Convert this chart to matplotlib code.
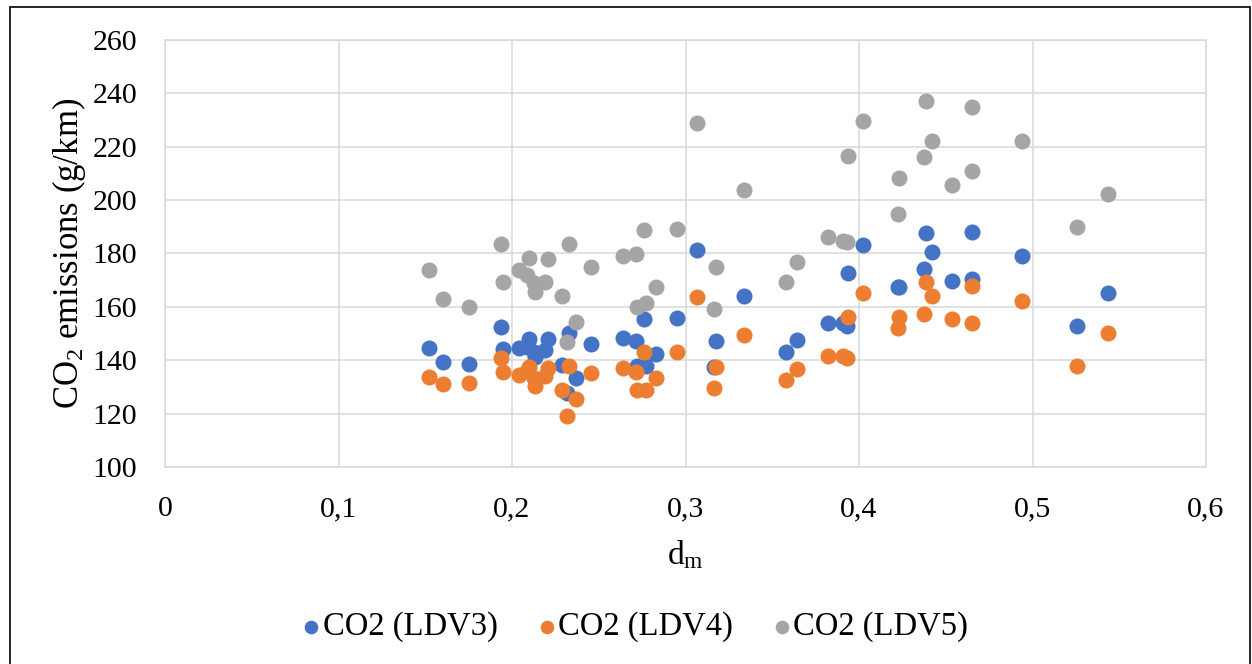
import matplotlib
matplotlib.use("Agg")
import matplotlib.pyplot as plt
from matplotlib.patches import Rectangle
from matplotlib.ticker import FuncFormatter

plt.rcParams['font.family'] = ['Liberation Serif', 'DejaVu Serif']
plt.rcParams['mathtext.fontset'] = 'custom'
plt.rcParams['mathtext.rm'] = 'Liberation Serif'
plt.rcParams['mathtext.it'] = 'Liberation Serif:italic'

# d_m values (shared by all three series)
dm = [0.152, 0.160, 0.175, 0.1935, 0.195, 0.204, 0.2088, 0.2098, 0.2125, 0.2135,
      0.219, 0.2205, 0.2286, 0.2315, 0.233, 0.2367, 0.2453, 0.2638, 0.2715, 0.2722,
      0.2763, 0.2772, 0.283, 0.2949, 0.3064, 0.3164, 0.3176, 0.3337, 0.358, 0.3644,
      0.382, 0.391, 0.3933, 0.3935, 0.4021, 0.4227, 0.4232, 0.4374, 0.4384, 0.4419,
      0.4534, 0.465, 0.4652, 0.4938, 0.5254, 0.5433]

co2_ldv3 = [144.5, 139.2, 138.5, 152.4, 144.3, 144.5, 145.0, 147.8, 143.2, 141.3,
            143.9, 147.8, 138.4, 127.6, 150.1, 133.2, 146.0, 148.2, 147.3, 138.0,
            155.5, 138.0, 142.2, 155.7, 181.4, 137.6, 147.2, 164.2, 143.0, 147.6,
            154.1, 153.8, 153.0, 172.8, 183.2, 167.5, 167.6, 174.1, 187.8, 180.7,
            169.7, 188.0, 170.3, 179.2, 152.8, 165.3]

co2_ldv4 = [133.8, 131.1, 131.6, 140.7, 135.5, 134.5, 136.0, 137.6, 133.2, 130.5,
            134.0, 137.0, 128.9, 119.1, 137.8, 125.4, 135.4, 137.0, 135.5, 128.9,
            143.0, 128.9, 133.5, 143.0, 163.8, 129.7, 137.4, 149.5, 132.6, 136.6,
            141.6, 141.6, 141.0, 156.3, 165.3, 152.2, 156.3, 157.3, 169.4, 164.1,
            155.3, 168.0, 154.1, 162.2, 138.0, 150.1]

co2_ldv5 = [173.8, 162.8, 159.8, 183.6, 169.4, 173.8, 172.0, 178.2, 168.8, 165.7,
            169.4, 178.0, 164.0, 147.0, 183.6, 154.5, 174.8, 179.2, 179.8, 160.1,
            188.8, 161.6, 167.6, 189.1, 228.8, 159.1, 174.8, 203.8, 169.4, 176.9,
            186.3, 184.8, 184.2, 216.5, 229.6, 194.7, 208.4, 216.0, 237.3, 222.3,
            205.7, 234.8, 211.0, 222.3, 190.0, 202.3]

series = [('CO2 (LDV3)', co2_ldv3, '#4472C4'),
          ('CO2 (LDV4)', co2_ldv4, '#ED7D31'),
          ('CO2 (LDV5)', co2_ldv5, '#A5A5A5')]

fig = plt.figure(figsize=(12.52, 6.64), dpi=100)
ax = fig.add_axes([165 / 1252, 1 - 467 / 664, (1206 - 165) / 1252, (467 - 40) / 664])

for name, vals, col in series:
    ax.scatter(dm, vals, s=133, color=col, label=name, linewidths=0, zorder=3)

ax.set_xlim(0, 0.6)
ax.set_ylim(100, 260)
ax.set_xticks([0, 0.1, 0.2, 0.3, 0.4, 0.5, 0.6])
ax.set_yticks(range(100, 261, 20))
ax.xaxis.set_major_formatter(FuncFormatter(lambda v, p: ('%g' % round(v, 1)).replace('.', ',')))
ax.grid(True, color='#D9D9D9', linewidth=1.1, zorder=0)
ax.set_axisbelow(True)
for sp in ax.spines.values():
    sp.set_color('#D9D9D9')
    sp.set_linewidth(1.1)
ax.tick_params(length=0, labelsize=21.5, colors='black')
ax.tick_params(axis='y', pad=20)
ax.tick_params(axis='x', pad=21)

ax.set_xlabel(r'$\mathrm{d_m}$', fontsize=24, labelpad=12)
ax.set_ylabel(r'CO$_\mathrm{2}$ emissions (g/km)', fontsize=25, labelpad=3)

fig.legend(loc='center', bbox_to_anchor=(0.507, 1 - 627 / 664), ncol=3, frameon=False,
           fontsize=23.5, handlelength=0.6, handletextpad=0.05, columnspacing=1.2,
           markerscale=0.85)

# outer frame
fig.patches.append(Rectangle((10 / 1252, -0.01), 1240 / 1252, 1 - 7 / 664 + 0.01,
                             transform=fig.transFigure, fill=False,
                             edgecolor='black', linewidth=1.2))

fig.savefig('out.png', dpi=100)
